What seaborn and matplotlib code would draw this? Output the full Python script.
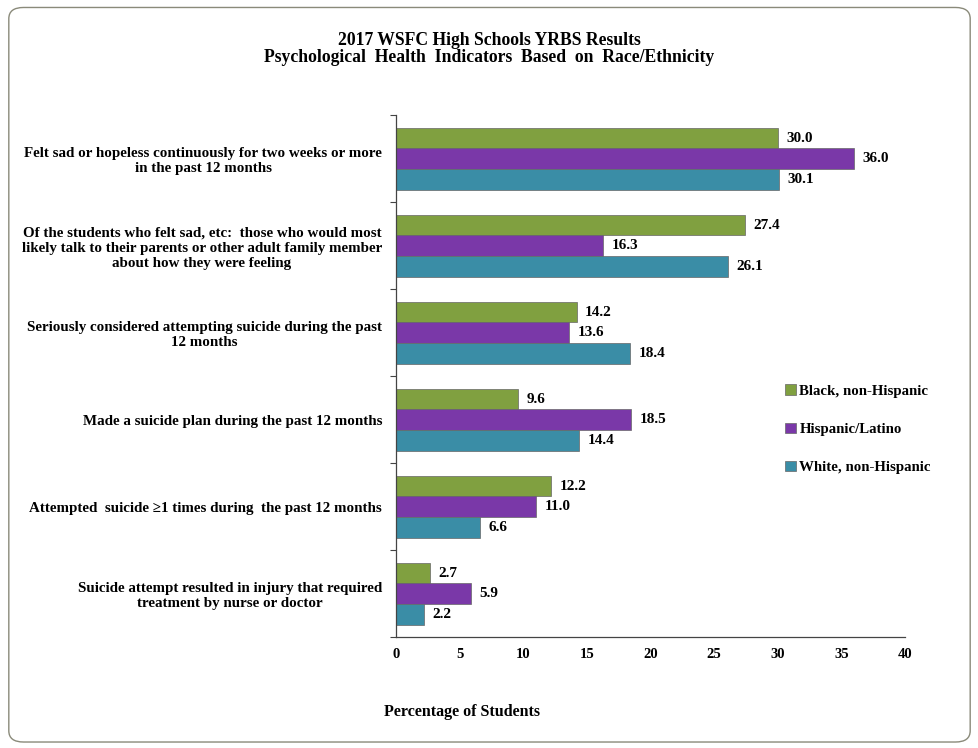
import pandas as pd
import numpy as np
import matplotlib.pyplot as plt
import seaborn as sns
from matplotlib.patches import FancyBboxPatch

# data
categories = [
    "Felt sad or hopeless continuously for two weeks or more\nin the past 12 months",
    "Of the students who felt sad, etc:  those who would most\nlikely talk to their parents or other adult family member\nabout how they were feeling",
    "Seriously considered attempting suicide during the past\n12 months",
    "Made a suicide plan during the past 12 months",
    "Attempted  suicide \u22651 times during  the past 12 months",
    "Suicide attempt resulted in injury that required\ntreatment by nurse or doctor",
]
groups = ["Black, non-Hispanic", "Hispanic/Latino", "White, non-Hispanic"]
black = [30.0, 27.4, 14.2, 9.6, 12.2, 2.7]
hispanic = [36.0, 16.3, 13.6, 18.5, 11.0, 5.9]
white = [30.1, 26.1, 18.4, 14.4, 6.6, 2.2]
colors = ["#80a040", "#7a38a8", "#3a8da6"]

df = pd.DataFrame({
    "Indicator": categories * 3,
    "Group": [g for g in groups for _ in categories],
    "Value": black + hispanic + white,
})

sns.set_style("white")
plt.rcParams["font.family"] = ["Liberation Serif", "DejaVu Serif"]
plt.rcParams["font.weight"] = "bold"
plt.rcParams["text.color"] = "black"
plt.rcParams["xtick.color"] = "black"
plt.rcParams["ytick.color"] = "black"

fig = plt.figure(figsize=(9.79, 7.48), dpi=100)
ax = fig.add_axes([0.4045, 0.148, 0.52, 0.698])

sns.barplot(data=df, y="Indicator", x="Value", hue="Group", hue_order=groups,
            palette=colors, orient="h", width=0.71, saturation=1,
            edgecolor="#666666", linewidth=0.5, ax=ax, legend=True)

# value labels
for cont in ax.containers:
    ax.bar_label(cont, fmt="%.1f", padding=6, fontsize=11, fontweight="bold")

ax.set_xlim(0, 40)
ax.set_xticks(range(0, 41, 5))
ax.set_ylim(5.5, -0.5)
ax.set_xlabel("")
ax.set_ylabel("")
for s in ["top", "right"]:
    ax.spines[s].set_visible(False)
for s in ["left", "bottom"]:
    ax.spines[s].set_color("#444444")
    ax.spines[s].set_linewidth(0.9)

ax.tick_params(axis="x", length=4, width=0.8, direction="out", labelsize=10.5, color="#444444", pad=4)
ax.tick_params(axis="y", length=0, labelsize=10.8, pad=10)
for lbl in ax.get_yticklabels():
    lbl.set_multialignment("center")
    lbl.set_fontweight("bold")
for lbl in ax.get_xticklabels():
    lbl.set_fontweight("bold")
ax.set_yticks(np.arange(-0.5, 6, 1), minor=True)
ax.tick_params(axis="y", which="minor", length=4, width=0.8, color="#444444", left=True)

# legend
handles, labels = ax.get_legend_handles_labels()
ax.legend(handles, labels, loc="upper left", bbox_to_anchor=(0.738, 0.51),
          frameon=False, handlelength=0.7, handleheight=0.7, handletextpad=0.25,
          labelspacing=1.65, prop={"weight": "bold", "size": 10.75})

fig.text(0.5, 0.935, "2017 WSFC High Schools YRBS Results\nPsychological  Health  Indicators  Based  on  Race/Ethnicity",
         ha="center", va="center", fontsize=12.7, fontweight="bold", linespacing=1.0)
fig.text(0.472, 0.048, "Percentage of Students", ha="center", va="center",
         fontsize=11.5, fontweight="bold")

border = FancyBboxPatch((0.009, 0.008), 0.982, 0.982, boxstyle="round,pad=0,rounding_size=0.015",
                        transform=fig.transFigure, fill=False, edgecolor="#8a8a7a", linewidth=1.0)
fig.patches.append(border)

fig.savefig("out.png", dpi=100)
